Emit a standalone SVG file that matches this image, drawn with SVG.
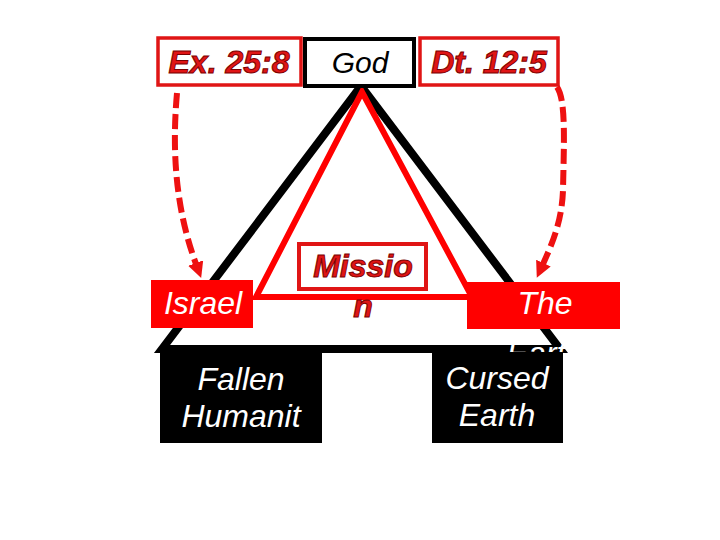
<svg xmlns="http://www.w3.org/2000/svg" width="720" height="540" viewBox="0 0 720 540">
<style>
  text { font-family: "Liberation Sans", Arial, sans-serif; font-style: italic; font-size: 32px; text-anchor: middle; }
  .redlbl { fill: #e01515; stroke: #7a0000; stroke-width: 1; font-weight: bold; }
  .white { fill: #ffffff; }
  .black { fill: #000000; }
  .redbox { fill: #ff0000; stroke: none; }
  .blackbox { fill: #000000; stroke: none; }
  .outline { fill: #ffffff; stroke: #e01515; stroke-width: 3.5; }
  .dash { fill: none; stroke: #ee1111; stroke-width: 6; stroke-dasharray: 15 6; }
</style>
<defs>
  <marker id="ah" markerUnits="userSpaceOnUse" markerWidth="18" markerHeight="18" refX="1" refY="8" orient="auto">
    <path d="M0,0 L16,8 L0,16 z" fill="#ee1111"/>
  </marker>
</defs>
<rect width="720" height="540" fill="#ffffff"/>

<g id="triangles">
  <polygon points="361,86 162,349 560,349" fill="none" stroke="#000" stroke-width="8" stroke-linejoin="miter"/>
  <polygon points="362,92 256,297 472,297" fill="none" stroke="#ff0000" stroke-width="6" stroke-linejoin="miter"/>
</g>

<g id="connectors">
  <path class="dash" d="M177,93 C171,160 178,215 196,264" marker-end="url(#ah)"/>
  <path class="dash" d="M557,87 C566,100 564,140 563,190 C562,220 553,242 543,264" marker-end="url(#ah)"/>
</g>

<g id="ex">
  <rect class="outline" x="158" y="38" width="143" height="47"/>
  <text class="redlbl" x="229" y="73">Ex. 25:8</text>
</g>
<g id="god">
  <rect x="305" y="39" width="109" height="47" fill="#fff" stroke="#000" stroke-width="4"/>
  <text class="black" x="360" y="73" style="font-size:30px">God</text>
</g>
<g id="dt">
  <rect class="outline" x="420" y="38" width="138" height="47"/>
  <text class="redlbl" x="489" y="73">Dt. 12:5</text>
</g>

<g id="mission">
  <rect x="299" y="244" width="127" height="45" fill="#fff" stroke="#e01515" stroke-width="4"/>
  <text class="redlbl" x="363" y="277">Missio</text>
  <text class="redlbl" x="363" y="317">n</text>
</g>

<g id="israel">
  <rect class="redbox" x="151" y="280" width="102" height="48"/>
  <text class="white" x="203" y="314">Israel</text>
</g>

<g id="theearth">
  <rect class="redbox" x="467" y="282" width="153" height="47"/>
  <text class="white" x="545" y="314">The</text>
  <text class="white" x="545" y="364">Earth</text>
</g>

<g id="fallen">
  <rect class="blackbox" x="160" y="352" width="162" height="91"/>
  <text class="white" x="241" y="390">Fallen</text>
  <text class="white" x="241" y="427">Humanit</text>
</g>

<g id="cursed">
  <rect class="blackbox" x="432" y="352" width="131" height="91"/>
  <text class="white" x="497" y="389">Cursed</text>
  <text class="white" x="497" y="426">Earth</text>
</g>
</svg>
